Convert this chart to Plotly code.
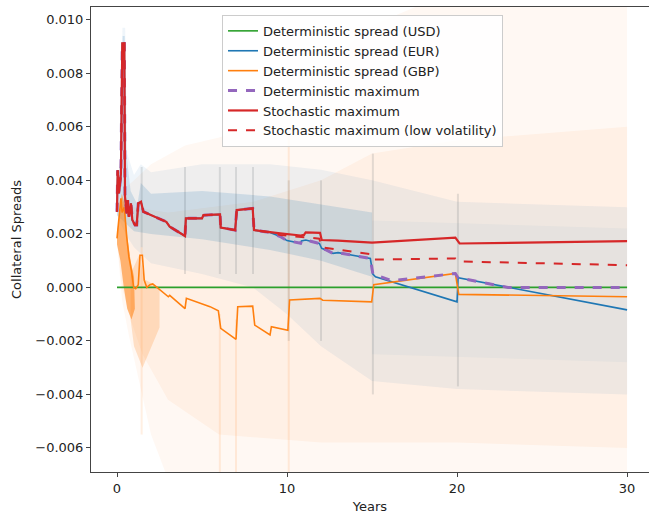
import plotly.graph_objects as go

# ---------------- data ----------------
usd_t = [0, 30]
usd_v = [0.0, 0.0]

stoch_t = [0, 0.04, 0.12, 0.23, 0.31, 0.43, 0.47, 0.57, 0.63, 0.70, 0.82, 0.90, 1.06, 1.16,
           1.25, 1.41, 1.55, 1.65, 2.9, 3.1, 4.0, 4.05, 5.0, 5.08, 6.06, 6.1, 6.95, 7.04, 7.98,
           8.06, 9.0, 9.6, 10.8, 11.0, 11.1, 11.94, 12.04, 13.0, 15.0, 19.9, 20.15, 30]
stoch_v = [0.00283, 0.00438, 0.00351, 0.00426, 0.00912, 0.00912, 0.00339, 0.00277, 0.00326,
           0.00264, 0.00314, 0.00252, 0.00233, 0.00233, 0.00314, 0.00320, 0.00283, 0.00280,
           0.00245, 0.00227, 0.00192, 0.00258, 0.00258, 0.00270, 0.00273, 0.00224, 0.00214,
           0.00289, 0.00295, 0.00214, 0.00205, 0.00202, 0.00194, 0.00196, 0.00206, 0.00204,
           0.00177, 0.00175, 0.00167, 0.00186, 0.00164, 0.00173]

lowvol_t = stoch_t[:31] + [9.6, 11.9, 12.04, 14.9, 15.05, 19.9, 20.1, 30]
lowvol_v = stoch_v[:31] + [0.00196, 0.00182, 0.00150, 0.00124, 0.00104, 0.00108, 0.00097, 0.00083]

eur_t = stoch_t[:31] + [9.6, 10.0, 10.8, 10.85, 11.1, 11.9, 12.04, 12.3, 12.7, 13.0, 14.9,
                        15.05, 15.2, 20.0, 20.06, 30]
eur_v = stoch_v[:31] + [0.00190, 0.00175, 0.00165, 0.00174, 0.00177, 0.00164, 0.00146,
                        0.00140, 0.00127, 0.00130, 0.00108, 0.00050, 0.00040, -0.00054,
                        0.00036, -0.00084]

gbp_t = [0, 0.1, 0.23, 0.3, 0.43, 0.57, 0.7, 0.84, 0.98, 1.1, 1.25, 1.35, 1.49, 1.6, 1.75,
         1.94, 2.1, 3.02, 3.1, 4.0, 4.08, 5.47, 5.96, 6.1, 7.0, 7.1, 7.98, 8.1, 9.0, 9.08,
         10.05, 10.15, 11.94, 12.1, 14.98, 15.1, 19.9, 20.1, 30]
gbp_v = [0.00183, 0.00240, 0.00333, 0.00280, 0.00300, 0.00190, 0.00114, 0.00065, 0.00000,
         -0.00005, 0.00010, 0.00120, 0.00120, 0.00027, 0.00000, 0.00010, 0.00013, -0.00035,
         -0.00030, -0.00079, -0.00041, -0.00072, -0.00087, -0.00153, -0.00194, -0.00072,
         -0.00070, -0.00141, -0.00178, -0.00147, -0.00160, -0.00047, -0.00041, -0.00048,
         -0.00054, 0.00010, 0.00052, -0.00026, -0.00035]

detmax_t = eur_t[:-4] + [16.16, 19.9, 20.06, 23.0, 30]
detmax_v = eur_v[:-4] + [0.00025, 0.00052, 0.00036, 0.0, 0.0]

# simulated-path clouds, summarised as envelopes (t, value)
orange_outer_t = [0, 0.3, 1, 2, 4, 6, 8, 10, 12, 15, 18, 30, 30, 3.2, 2, 1.2, 0.7, 0.3, 0]
orange_outer_v = [0.0019, 0.0036, 0.0040, 0.0046, 0.0053, 0.0056, 0.0060, 0.0068, 0.0082,
                  0.0098, 0.0106, 0.0106, -0.0075, -0.0075, -0.0055, -0.0032, -0.0018,
                  -0.0005, 0.0017]
orange_mid_t = [0, 0.3, 1, 3, 8, 12, 15, 20, 30, 30, 20, 12, 6, 3, 1.5, 0.8, 0.3, 0]
orange_mid_v = [0.0019, 0.0034, 0.0030, 0.0028, 0.0032, 0.0040, 0.0050, 0.0055, 0.0060,
                -0.0060, -0.0058, -0.0058, -0.0055, -0.0042, -0.0025, -0.0012, 0.0, 0.0017]
blue_outer_t = [0, 0.2, 0.32, 0.48, 0.6, 1, 1.4, 2, 5, 9, 12, 15, 20, 30,
                30, 20, 15, 12, 10, 8, 5, 2, 1, 0.5, 0]
blue_outer_v = [0.0029, 0.0050, 0.0097, 0.0097, 0.0050, 0.0042, 0.0046, 0.0043, 0.0046,
                0.0046, 0.0044, 0.0040, 0.0032, 0.0030, -0.0040, -0.0038, -0.0035, -0.0022,
                -0.0010, 0.0, 0.0005, 0.0009, 0.0015, 0.0020, 0.0027]
blue_late_t = [15, 30, 30, 15]
blue_late_v = [0.0025, 0.0022, -0.0028, -0.0025]
blue_dense_t = [0, 0.25, 0.33, 0.45, 0.55, 0.8, 1.2, 1.4, 2, 5, 9, 12, 15,
                15, 12, 9, 5, 2, 1, 0.5, 0]
blue_dense_v = [0.0029, 0.0055, 0.0094, 0.0094, 0.0050, 0.0036, 0.0031, 0.0039, 0.0035,
                0.0036, 0.0034, 0.0031, 0.0028, 0.0004, 0.0010, 0.0014, 0.0018, 0.0020,
                0.0021, 0.0024, 0.0027]
orange_early_t = [0, 0.15, 0.28, 0.45, 0.6, 0.8, 1.0, 1.05, 0.85, 0.6, 0.4, 0.2, 0]
orange_early_v = [0.0020, 0.0028, 0.0035, 0.0031, 0.0019, 0.0010, 0.0004, -0.0008, -0.0012,
                  -0.0008, 0.0, 0.0010, 0.0016]
orange_young_t = [0.8, 1.3, 1.6, 2.5, 2.5, 1.5, 1.0, 0.8]
orange_young_v = [0.0005, 0.0012, 0.0003, 0.0, -0.0015, -0.0030, -0.0022, -0.0012]

# vertical streaks where many paths jump at once: time, low, high
streak_gray_t = [1.45, 4.0, 6.05, 7.0, 8.0, 10.1, 12.0, 15.05, 20.05]
streak_gray_lo = [0.0015, 0.0005, 0.0005, 0.0005, 0.0005, -0.0020, -0.0020, -0.0040, -0.0037]
streak_gray_hi = [0.0045, 0.0045, 0.0045, 0.0045, 0.0045, 0.0040, 0.0040, 0.0050, 0.0035]
streak_orange_t = [1.45, 6.05, 7.0, 10.1]
streak_orange_lo = [-0.0055, -0.0070, -0.0070, -0.0070]
streak_orange_hi = [0.0015, -0.0010, -0.0012, 0.0060]

x_ticks = [0, 10, 20, 30]
y_ticks = [-0.006, -0.004, -0.002, 0.0, 0.002, 0.004, 0.006, 0.008, 0.010]

# ---------------- figure ----------------
fig = go.Figure()

def cloud(t, v, color):
    fig.add_trace(go.Scatter(x=t, y=v, mode="lines", fill="toself", fillcolor=color,
                             line=dict(width=0), hoverinfo="skip", showlegend=False))

cloud(orange_outer_t, orange_outer_v, "rgba(255,127,14,0.05)")
cloud(orange_mid_t, orange_mid_v, "rgba(255,127,14,0.06)")
cloud(blue_outer_t, blue_outer_v, "rgba(31,119,180,0.07)")
cloud(blue_late_t, blue_late_v, "rgba(31,119,180,0.04)")
cloud(blue_dense_t, blue_dense_v, "rgba(31,119,180,0.16)")
cloud(orange_young_t, orange_young_v, "rgba(255,127,14,0.2)")
cloud(orange_early_t, orange_early_v, "rgba(255,127,14,0.55)")

def streaks(ts, lo, hi, color):
    xs, ys = [], []
    for t, a, b in zip(ts, lo, hi):
        xs += [t, t, None]
        ys += [a, b, None]
    fig.add_trace(go.Scatter(x=xs, y=ys, mode="lines", line=dict(color=color, width=2),
                             hoverinfo="skip", showlegend=False))

streaks(streak_gray_t, streak_gray_lo, streak_gray_hi, "rgba(70,80,90,0.15)")
streaks(streak_orange_t, streak_orange_lo, streak_orange_hi, "rgba(255,127,14,0.12)")

fig.add_trace(go.Scatter(x=usd_t, y=usd_v, mode="lines", name="Deterministic spread (USD)",
                         line=dict(color="#2ca02c", width=1.6)))
fig.add_trace(go.Scatter(x=eur_t, y=eur_v, mode="lines", name="Deterministic spread (EUR)",
                         line=dict(color="#1f77b4", width=1.6)))
fig.add_trace(go.Scatter(x=gbp_t, y=gbp_v, mode="lines", name="Deterministic spread (GBP)",
                         line=dict(color="#ff7f0e", width=1.6)))
fig.add_trace(go.Scatter(x=detmax_t, y=detmax_v, mode="lines", name="Deterministic maximum",
                         line=dict(color="#9467bd", width=3, dash="dash")))
fig.add_trace(go.Scatter(x=stoch_t, y=stoch_v, mode="lines", name="Stochastic maximum",
                         line=dict(color="#d62728", width=2.2)))
fig.add_trace(go.Scatter(x=lowvol_t, y=lowvol_v, mode="lines",
                         name="Stochastic maximum (low volatility)",
                         line=dict(color="#d62728", width=2, dash="dash")))

axis_font = dict(family="DejaVu Sans", size=13, color="#222")
fig.update_layout(
    width=649, height=514,
    margin=dict(l=91, r=0, t=7, b=42),
    paper_bgcolor="white", plot_bgcolor="white",
    font=axis_font,
    showlegend=True,
    legend=dict(x=0.2348, y=0.983, xanchor="left", yanchor="top",
                bgcolor="rgba(255,255,255,0.85)", bordercolor="#cccccc", borderwidth=1,
                font=dict(family="DejaVu Sans", size=13, color="#222")),
    xaxis=dict(range=[-1.53, 31.29], tickvals=x_ticks, ticktext=[str(v) for v in x_ticks],
               showgrid=False, zeroline=False, showline=True, mirror=True,
               linecolor="#444", linewidth=1, ticks="outside", ticklen=4, tickcolor="#444",
               title=dict(text="Years", standoff=7, font=axis_font)),
    yaxis=dict(range=[-0.0069, 0.01048], tickvals=y_ticks, tickformat=".3f",
               showgrid=False, zeroline=False, showline=True, mirror=False,
               linecolor="#444", linewidth=1, ticks="outside", ticklen=4, tickcolor="#444",
               title=dict(text="Collateral Spreads", standoff=10, font=axis_font)),
)

fig.write_html("out.html", config={"displayModeBar": False},
               post_script="document.body.style.margin='0';document.body.style.overflow='hidden';")
